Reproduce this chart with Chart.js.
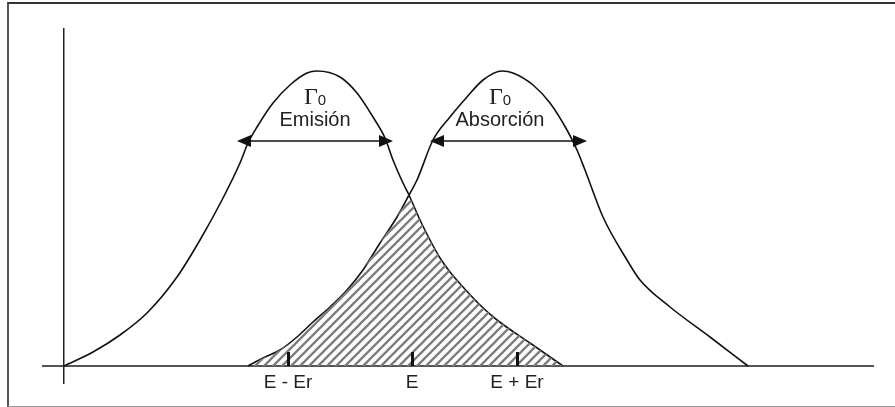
<!DOCTYPE html>
<html>
<head>
<meta charset="utf-8">
<script src="https://cdn.jsdelivr.net/npm/chart.js@4.4.0/dist/chart.umd.min.js"></script>
<style>
  html, body { margin: 0; padding: 0; background: #fff; }
  #wrap { position: relative; width: 895px; height: 407px; overflow: hidden; }
  #frame { position: absolute; left: 7px; top: 2px; width: 900px; height: 402px;
           border-left: 2px solid #555; border-top: 2px solid #333; border-bottom: 1px solid #999; }
  #chart { position: absolute; left: 0; top: 0; }
</style>
</head>
<body>
<div id="wrap">
  <div id="frame"></div>
  <canvas id="chart" width="895" height="407"></canvas>
</div>
<script>
// energía (desde el origen) e intensidad, unidades arbitrarias
const emissionX = [0, 29, 56, 83, 113, 136, 158, 176, 184, 193, 209, 226, 243, 253, 276, 293, 309, 321, 329, 339, 345, 356, 366, 376, 386, 399, 416, 433, 466, 499];
const emissionY = [0, 14, 31, 53, 89, 126, 166, 203, 223, 239, 263, 281, 293, 295, 289, 273, 249, 228, 206, 183, 171, 146, 126, 108, 94, 79, 61, 46, 23, 0];

const absorptionX = [184, 199, 216, 233, 249, 266, 283, 299, 316, 333, 345, 353, 369, 386, 403, 419, 438, 449, 469, 486, 503, 513, 521, 539, 563, 576, 606, 646, 684];
const absorptionY = [0, 8, 16, 29, 44, 59, 76, 96, 123, 149, 171, 186, 226, 249, 269, 286, 295, 293, 281, 263, 236, 216, 196, 149, 106, 86, 59, 29, 0];

// anchura Γ0: [x inicial, x final, altura]
const emissionWidth = [173, 329, 225];
const absorptionWidth = [366, 523, 225];

const peakNames = ["Emisión", "Absorción"];
const peakCenters = [251, 436];

const tickValues = [224, 348, 453];
const tickLabels = ["E - Er", "E", "E + Er"];

const toPoints = (xs, ys) => xs.map((x, i) => ({ x: x, y: ys[i] }));

function valueAt(xs, ys, x) {
  if (x < xs[0] || x > xs[xs.length - 1]) return 0;
  for (let i = 1; i < xs.length; i++) {
    if (x <= xs[i]) {
      const t = (x - xs[i - 1]) / (xs[i] - xs[i - 1]);
      return ys[i - 1] + t * (ys[i] - ys[i - 1]);
    }
  }
  return 0;
}

// zona común a las dos líneas (mínimo de ambas)
const overlapX = [...new Set(emissionX.concat(absorptionX))]
  .filter(x => x >= absorptionX[0] && x <= emissionX[emissionX.length - 1])
  .sort((a, b) => a - b);
const overlap = overlapX.map(x => ({
  x: x,
  y: Math.min(valueAt(emissionX, emissionY, x), valueAt(absorptionX, absorptionY, x))
}));

// rayado diagonal
function hatch() {
  const n = 9;
  const c = document.createElement("canvas");
  c.width = n; c.height = n;
  const g = c.getContext("2d");
  g.strokeStyle = "#7c7c7c";
  g.lineWidth = 2.3;
  g.beginPath();
  g.moveTo(-n / 2, n / 2); g.lineTo(n / 2, -n / 2);
  g.moveTo(0, n); g.lineTo(n, 0);
  g.moveTo(n / 2, n * 1.5); g.lineTo(n * 1.5, n / 2);
  g.stroke();
  return g.createPattern(c, "repeat");
}

const peakNotes = {
  id: "peakNotes",
  afterDatasetsDraw(chart) {
    const { ctx, scales: { x, y } } = chart;
    ctx.save();
    ctx.strokeStyle = "#111";
    ctx.fillStyle = "#111";

    // marcas sobre el eje de energía
    ctx.lineWidth = 3;
    const y0 = y.getPixelForValue(0);
    tickValues.forEach(v => {
      const px = Math.round(x.getPixelForValue(v)) + 0.5;
      ctx.beginPath();
      ctx.moveTo(px, y0);
      ctx.lineTo(px, y0 - 14);
      ctx.stroke();
    });

    // flechas de anchura
    ctx.lineWidth = 1.6;
    [emissionWidth, absorptionWidth].forEach(w => {
      const x1 = x.getPixelForValue(w[0]);
      const x2 = x.getPixelForValue(w[1]);
      const py = y.getPixelForValue(w[2]);
      ctx.beginPath();
      ctx.moveTo(x1 + 6, py);
      ctx.lineTo(x2 - 6, py);
      ctx.stroke();
      ctx.beginPath();
      ctx.moveTo(x1, py); ctx.lineTo(x1 + 14, py - 6); ctx.lineTo(x1 + 14, py + 6); ctx.closePath();
      ctx.moveTo(x2, py); ctx.lineTo(x2 - 14, py - 6); ctx.lineTo(x2 - 14, py + 6); ctx.closePath();
      ctx.fill();
    });

    ctx.fillStyle = "#222";
    ctx.textBaseline = "alphabetic";
    peakNames.forEach((name, i) => {
      const cx = x.getPixelForValue(peakCenters[i]);
      // Γ0
      ctx.font = '24px "Liberation Serif"';
      const gw = ctx.measureText("Γ").width;
      ctx.font = '15px "Liberation Sans"';
      const sw = ctx.measureText("0").width;
      const left = cx - (gw + sw) / 2;
      const gy = y.getPixelForValue(262);
      ctx.font = '24px "Liberation Serif"';
      ctx.textAlign = "left";
      ctx.fillText("Γ", left, gy);
      ctx.font = '15px "Liberation Sans"';
      ctx.fillText("0", left + gw, gy + 1);
      // nombre
      ctx.font = '20px "Liberation Sans"';
      ctx.textAlign = "center";
      ctx.fillText(name, cx, y.getPixelForValue(240));
    });
    ctx.restore();
  }
};

const line = (data, extra) => Object.assign({
  data: data,
  borderColor: "#111",
  borderWidth: 1.6,
  pointRadius: 0,
  fill: false,
  showLine: true,
  cubicInterpolationMode: "monotone"
}, extra);

new Chart(document.getElementById("chart"), {
  type: "scatter",
  data: {
    datasets: [
      line(overlap, { borderWidth: 0, fill: "origin", backgroundColor: hatch(), cubicInterpolationMode: "default", tension: 0 }),
      line(toPoints(emissionX, emissionY)),
      line(toPoints(absorptionX, absorptionY))
    ]
  },
  options: {
    responsive: false,
    animation: false,
    devicePixelRatio: 1,
    layout: { padding: { left: 43, right: 22, top: 29, bottom: 24 } },
    plugins: { legend: { display: false }, tooltip: { enabled: false } },
    scales: {
      x: {
        type: "linear",
        min: -21,
        max: 809,
        position: { y: 0 },
        afterFit: s => { s.height = 0; },
        afterBuildTicks: s => { s.ticks = tickValues.map(v => ({ value: v })); },
        grid: { display: false, drawTicks: false },
        border: { display: true, color: "#555", width: 2 },
        ticks: {
          autoSkip: false,
          maxRotation: 0,
          padding: 5,
          color: "#222",
          font: { family: "Liberation Sans", size: 19 },
          callback: v => tickLabels[tickValues.indexOf(v)]
        }
      },
      y: {
        type: "linear",
        min: -17,
        max: 337,
        position: { x: 0 },
        afterFit: s => { s.width = 0; },
        grid: { display: false, drawTicks: false },
        border: { display: true, color: "#222", width: 1.5 },
        ticks: { display: false }
      }
    }
  },
  plugins: [peakNotes]
});
</script>
</body>
</html>
